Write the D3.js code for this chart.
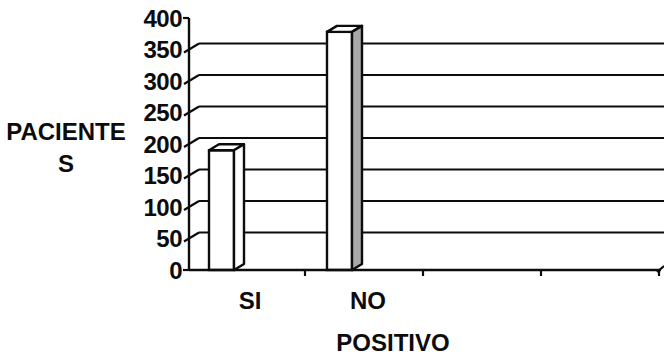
<!DOCTYPE html>
<html><head><meta charset="utf-8">
<script src="https://cdn.jsdelivr.net/npm/d3@7"></script>
<style>html,body{margin:0;padding:0;background:#fff;}svg{display:block;}</style>
</head><body>
<script>
const categories = ["SI", "NO", "", " "];
const values = [190, 378, null, null];
const yTicks = [0, 50, 100, 150, 200, 250, 300, 350, 400];
const yTitle = ["PACIENTE", "S"];
const xTitle = "POSITIVO";

const W = 664, H = 355;
const svg = d3.select("body").append("svg").attr("width", W).attr("height", H);
const font = "'Liberation Sans', Arial, sans-serif";
const x = d3.scaleBand().domain(categories).range([189, 661]).padding(0);
const y = d3.scaleLinear().domain([0, 400]).range([270, 18]);
const dx = 10, dy = -6;
const ink = "#0c0c0c";
const fs = 24;

// back-wall gridlines
svg.append("g").selectAll("line").data(yTicks.filter(v => v > 0 && v < 400)).join("line")
  .attr("x1", 189 + dx).attr("x2", W + 5)
  .attr("y1", d => y(d) + dy).attr("y2", d => y(d) + dy)
  .attr("stroke", ink).attr("stroke-width", 2);

// y axis line
svg.append("line").attr("x1", 189).attr("x2", 189).attr("y1", y(400)).attr("y2", y(0))
  .attr("stroke", ink).attr("stroke-width", 2.4);
// y ticks (diagonal)
svg.append("g").selectAll("path").data(yTicks.filter(v => v > 0 && v < 400)).join("path")
  .attr("d", d => `M${184},${y(d) + 3}L${189 + dx},${y(d) + dy}`)
  .attr("stroke", ink).attr("stroke-width", 2.2).attr("fill", "none");
svg.append("line").attr("x1", 183).attr("x2", 189).attr("y1", y(400)).attr("y2", y(400))
  .attr("stroke", ink).attr("stroke-width", 2.2);
svg.append("line").attr("x1", 183).attr("x2", 189).attr("y1", y(0)).attr("y2", y(0))
  .attr("stroke", ink).attr("stroke-width", 2.2);

// y tick labels
svg.append("g").selectAll("text").data(yTicks).join("text")
  .attr("x", 182).attr("y", d => y(d)).attr("dy", "0.36em")
  .attr("text-anchor", "end").attr("font-family", font).attr("font-weight", "bold")
  .attr("font-size", fs).attr("letter-spacing", -0.5).attr("fill", ink).text(d => d);

// bars
const bw = 25, off = 20;
const bars = svg.append("g").selectAll("g").data(categories.map((c, i) => ({c, v: values[i], i})).filter(d => d.v != null)).join("g");
bars.append("rect")
  .attr("x", d => x(d.c) + off).attr("y", d => y(d.v))
  .attr("width", bw).attr("height", d => y(0) - y(d.v))
  .attr("fill", "#fff").attr("stroke", ink).attr("stroke-width", 2.4);
bars.append("path")
  .attr("d", d => { const x0 = x(d.c) + off, t = y(d.v);
    return `M${x0},${t}L${x0 + dx},${t + dy}L${x0 + bw + dx},${t + dy}L${x0 + bw},${t}Z`; })
  .attr("fill", "#fff").attr("stroke", ink).attr("stroke-width", 2.4).attr("stroke-linejoin", "round");
bars.append("path")
  .attr("d", d => { const x0 = x(d.c) + off + bw, t = y(d.v);
    return `M${x0},${t}L${x0 + dx},${t + dy}L${x0 + dx},${y(0) + dy}L${x0},${y(0)}Z`; })
  .attr("fill", d => d.i === 1 ? "#a8a8a8" : "#fff").attr("stroke", ink).attr("stroke-width", 2.4).attr("stroke-linejoin", "round");

// x axis
svg.append("line").attr("x1", 189).attr("x2", 661).attr("y1", y(0)).attr("y2", y(0))
  .attr("stroke", ink).attr("stroke-width", 2.6);
svg.append("g").selectAll("line").data(categories.slice(1)).join("line")
  .attr("x1", d => x(d) - 2).attr("x2", d => x(d) - 2)
  .attr("y1", y(0)).attr("y2", y(0) + 6)
  .attr("stroke", ink).attr("stroke-width", 2.2);
svg.append("line").attr("x1", 659).attr("x2", 659).attr("y1", y(0)).attr("y2", y(0) + 6)
  .attr("stroke", ink).attr("stroke-width", 2.2);
svg.append("line").attr("x1", 657).attr("x2", 664).attr("y1", y(0) + 2).attr("y2", y(0) - 4)
  .attr("stroke", ink).attr("stroke-width", 2.2);

// x labels
svg.append("g").selectAll("text").data(categories).join("text")
  .attr("x", d => x(d) + x.bandwidth() / 2 + 2).attr("y", 300).attr("dy", "0.36em")
  .attr("text-anchor", "middle").attr("font-family", font).attr("font-weight", "bold")
  .attr("font-size", fs).attr("fill", ink).text(d => d.trim());

// titles
svg.append("text").attr("x", 393).attr("y", 342).attr("dy", "0.36em")
  .attr("text-anchor", "middle").attr("font-family", font).attr("font-weight", "bold")
  .attr("font-size", fs).attr("fill", ink).text(xTitle);
svg.append("g").selectAll("text").data(yTitle).join("text")
  .attr("x", 66).attr("y", (d, i) => 131 + i * 32).attr("dy", "0.36em")
  .attr("text-anchor", "middle").attr("font-family", font).attr("font-weight", "bold")
  .attr("font-size", fs).attr("fill", ink).text(d => d);
</script>
</body></html>
